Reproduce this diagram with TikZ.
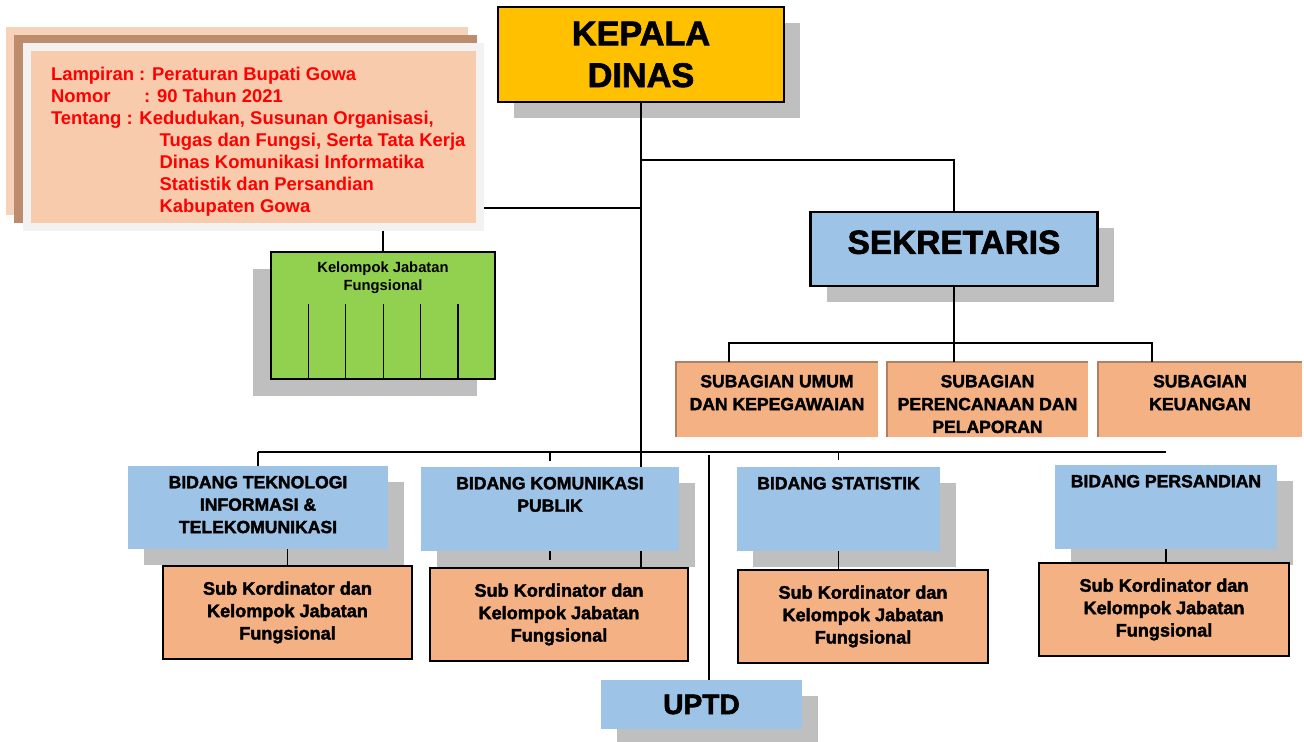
\documentclass[tikz,border=0pt]{standalone}
\usepackage{fontspec}
\setmainfont{Liberation Sans}
\newfontfamily\heavyfont{Liberation Sans}[BoldFeatures={FakeBold=2}]
\usepackage{xcolor}
\usetikzlibrary{positioning, shadows}
\definecolor{kepalaYellow}{HTML}{FFC000}
\definecolor{unitBlue}{HTML}{9DC3E6}
\definecolor{unitPeach}{HTML}{F4B183}
\definecolor{subEdge}{HTML}{B08060}
\definecolor{jfGreen}{HTML}{92D050}
\definecolor{shadowGray}{HTML}{BFBFBF}
\definecolor{lampPeach}{HTML}{F8CBAD}
\definecolor{lampLight}{HTML}{F6D2BA}
\definecolor{lampDark}{HTML}{BC8C6C}
\definecolor{frameGray}{HTML}{F2F2F2}

\begin{document}
\begin{tikzpicture}
  [line width=0.7pt,
   every node/.style={inner sep=0pt, outer sep=0pt},
   grayshadow/.style={drop shadow={shadow xshift=0.32cm, shadow yshift=-0.32cm, fill=shadowGray, opacity=1}},
   kepalabox/.style={draw, line width=1.2pt, fill=kepalaYellow, grayshadow, align=center,
     font=\heavyfont\bfseries\fontsize{19.5}{23.8}\selectfont},
   sekbox/.style={draw, line width=1.2pt, fill=unitBlue, grayshadow},
   bidbox/.style={fill=unitBlue, grayshadow},
   subbox/.style={fill=unitPeach, minimum height=1.5cm},
   subedge/.style={draw=subEdge, line width=1pt},
   kordbox/.style={draw, line width=1.2pt, fill=unitPeach, minimum height=1.86cm, align=center,
     font=\heavyfont\bfseries\fontsize{10.3}{12.75}\selectfont},
   uptdbox/.style={fill=unitBlue, grayshadow, font=\heavyfont\bfseries\fontsize{16}{19}\selectfont},
   jfbox/.style={draw, line width=1.5pt, fill=jfGreen,
     drop shadow={shadow xshift=-0.36cm, shadow yshift=-0.34cm, fill=shadowGray, opacity=1}},
   unitlbl/.style={align=center, font=\heavyfont\bfseries\fontsize{10}{12.75}\selectfont},
   sublbl/.style={align=center, font=\heavyfont\bfseries\fontsize{10}{13}\selectfont},
   jflbl/.style={align=center, font=\bfseries\fontsize{8.4}{10.2}\selectfont},
   lamptext/.style={align=left, text=red, font=\bfseries\fontsize{10.5}{12.5}\selectfont}]
  \useasboundingbox (0,0) rectangle (26.08,-14.84);

  % lampiran note
  \fill[lampLight] (0.12,-0.54) rectangle (9.36,-4.30);
  \fill[lampDark] (0.28,-0.70) rectangle (9.54,-4.46);
  \node (lampiran) [fill=frameGray, minimum width=9.22cm, minimum height=3.76cm] at (5.07,-2.74) {};
  \fill[lampPeach] ([shift={(0.16,-0.16)}]lampiran.north west) rectangle ([shift={(-0.16,0.16)}]lampiran.south east);
  \node (lampTxt) [lamptext, anchor=north west] at (1.02,-1.34)
    {Lampiran : Peraturan Bupati Gowa\\
     \makebox[53pt][l]{Nomor}: 90 Tahun 2021\\
     Tentang : Kedudukan, Susunan Organisasi,\\
     \hspace*{61.8pt}Tugas dan Fungsi, Serta Tata Kerja\\
     \hspace*{61.8pt}Dinas Komunikasi Informatika\\
     \hspace*{61.8pt}Statistik dan Persandian\\
     \hspace*{61.8pt}Kabupaten Gowa};

  % top
  \node (kepala) [kepalabox, minimum width=5.72cm, minimum height=1.9cm] at (12.82,-1.09) {KEPALA\\DINAS};
  \node (sek) [sekbox, minimum width=5.74cm, minimum height=1.48cm] at (19.08,-4.98) {};
  \node (sekLbl) [below=0.37cm of sek.north, font=\heavyfont\bfseries\fontsize{19}{22}\selectfont] {SEKRETARIS};

  % kelompok jabatan fungsional
  \node (kjf) [jfbox, minimum width=4.48cm, minimum height=2.54cm] at (7.66,-6.31) {};
  \node (kjfLbl) [jflbl, below=0.2cm of kjf.north] {Kelompok Jabatan\\Fungsional};
  \foreach \i in {1,...,5}
    \draw ([xshift=\i*0.748cm]kjf.south west) -- ++(0,1.5);

  % subagian
  \node (su1) [subbox, minimum width=4.04cm] at (15.54,-7.99) {};
  \node (su2) [subbox, minimum width=4.02cm] at (19.75,-7.99) {};
  \node (su3) [subbox, minimum width=4.08cm] at (24.0,-7.99) {};
  \foreach \s in {su1,su2,su3}
    \draw[subedge] (\s.south west) |- (\s.north east);
  \node (su1Lbl) [sublbl, below=0.26cm of su1.north] {SUBAGIAN UMUM\\DAN KEPEGAWAIAN};
  \node (su2Lbl) [sublbl, below=0.26cm of su2.north] {SUBAGIAN\\PERENCANAAN DAN\\PELAPORAN};
  \node (su3Lbl) [sublbl, below=0.26cm of su3.north] {SUBAGIAN\\KEUANGAN};

  % bidang
  \node (bTI) [bidbox, minimum width=5.2cm, minimum height=1.66cm] at (5.16,-10.15) {};
  \node (bKom) [bidbox, minimum width=5.16cm, minimum height=1.68cm] at (11.0,-10.18) {};
  \node (bStat) [bidbox, minimum width=4.06cm, minimum height=1.68cm] at (16.77,-10.18) {};
  \node (bPers) [bidbox, minimum width=4.44cm, minimum height=1.68cm] at (23.32,-10.14) {};
  \node (bTILbl) [unitlbl, below=0.2cm of bTI.north] {BIDANG TEKNOLOGI\\INFORMASI \&\\TELEKOMUNIKASI};
  \node (bKomLbl) [unitlbl, below=0.2cm of bKom.north] {BIDANG KOMUNIKASI\\PUBLIK};
  \node (bStatLbl) [unitlbl, below=0.2cm of bStat.north] {BIDANG STATISTIK};
  \node (bPersLbl) [unitlbl, below=0.2cm of bPers.north] {BIDANG PERSANDIAN};

  % sub kordinator
  \node (sTI) [kordbox, minimum width=4.98cm] at (5.75,-12.25) {Sub Kordinator dan\\Kelompok Jabatan\\Fungsional};
  \node (sKom) [kordbox, minimum width=5.16cm] at (11.18,-12.29) {Sub Kordinator dan\\Kelompok Jabatan\\Fungsional};
  \node (sStat) [kordbox, minimum width=5.0cm] at (17.26,-12.33) {Sub Kordinator dan\\Kelompok Jabatan\\Fungsional};
  \node (sPers) [kordbox, minimum width=5.0cm] at (23.28,-12.19) {Sub Kordinator dan\\Kelompok Jabatan\\Fungsional};

  \node (uptd) [uptdbox, minimum width=4.02cm, minimum height=0.98cm] at (14.03,-14.09) {UPTD};

  % connectors
  \coordinate (jSek) at (12.82,-3.2);
  \coordinate (jLamp) at (12.82,-4.16);
  \coordinate (jBid) at (12.82,-9.04);
  \draw (kepala.south) -- (kepala.south |- bKom.north);
  \draw (kepala.south |- bKom.south) -- (kepala.south |- sKom.north);
  \draw (jSek) -| (sek.north);
  \draw (jLamp) -- (jLamp -| lampiran.east);
  \draw (lampiran.south -| kjf.north) -- (kjf.north);
  \draw (sek.south) -- (sek.south |- su2.north);
  \draw ([xshift=-0.96cm]su1.north) |- ([yshift=0.38cm]su2.north) -| ([xshift=-0.96cm]su3.north);
  \draw (bTI.north |- jBid) -- (bPers.north |- jBid);
  \draw (bTI.north |- jBid) -- (bTI.north);
  \draw (bKom.north |- jBid) -- ++(0,-0.18);
  \draw (bStat.north |- jBid) -- ++(0,-0.16);
  \draw ([xshift=0.15cm,yshift=-0.06cm]uptd.north |- jBid) -- ([xshift=0.15cm]uptd.north);
  \draw (sTI.north) -- (sTI.north |- bTI.south);
  \draw (bKom.south) -- ++(0,-0.18);
  \draw (bStat.south) -- (bStat.south |- sStat.north);
  \draw (bPers.south) -- (bPers.south |- sPers.north);
\end{tikzpicture}
\end{document}
